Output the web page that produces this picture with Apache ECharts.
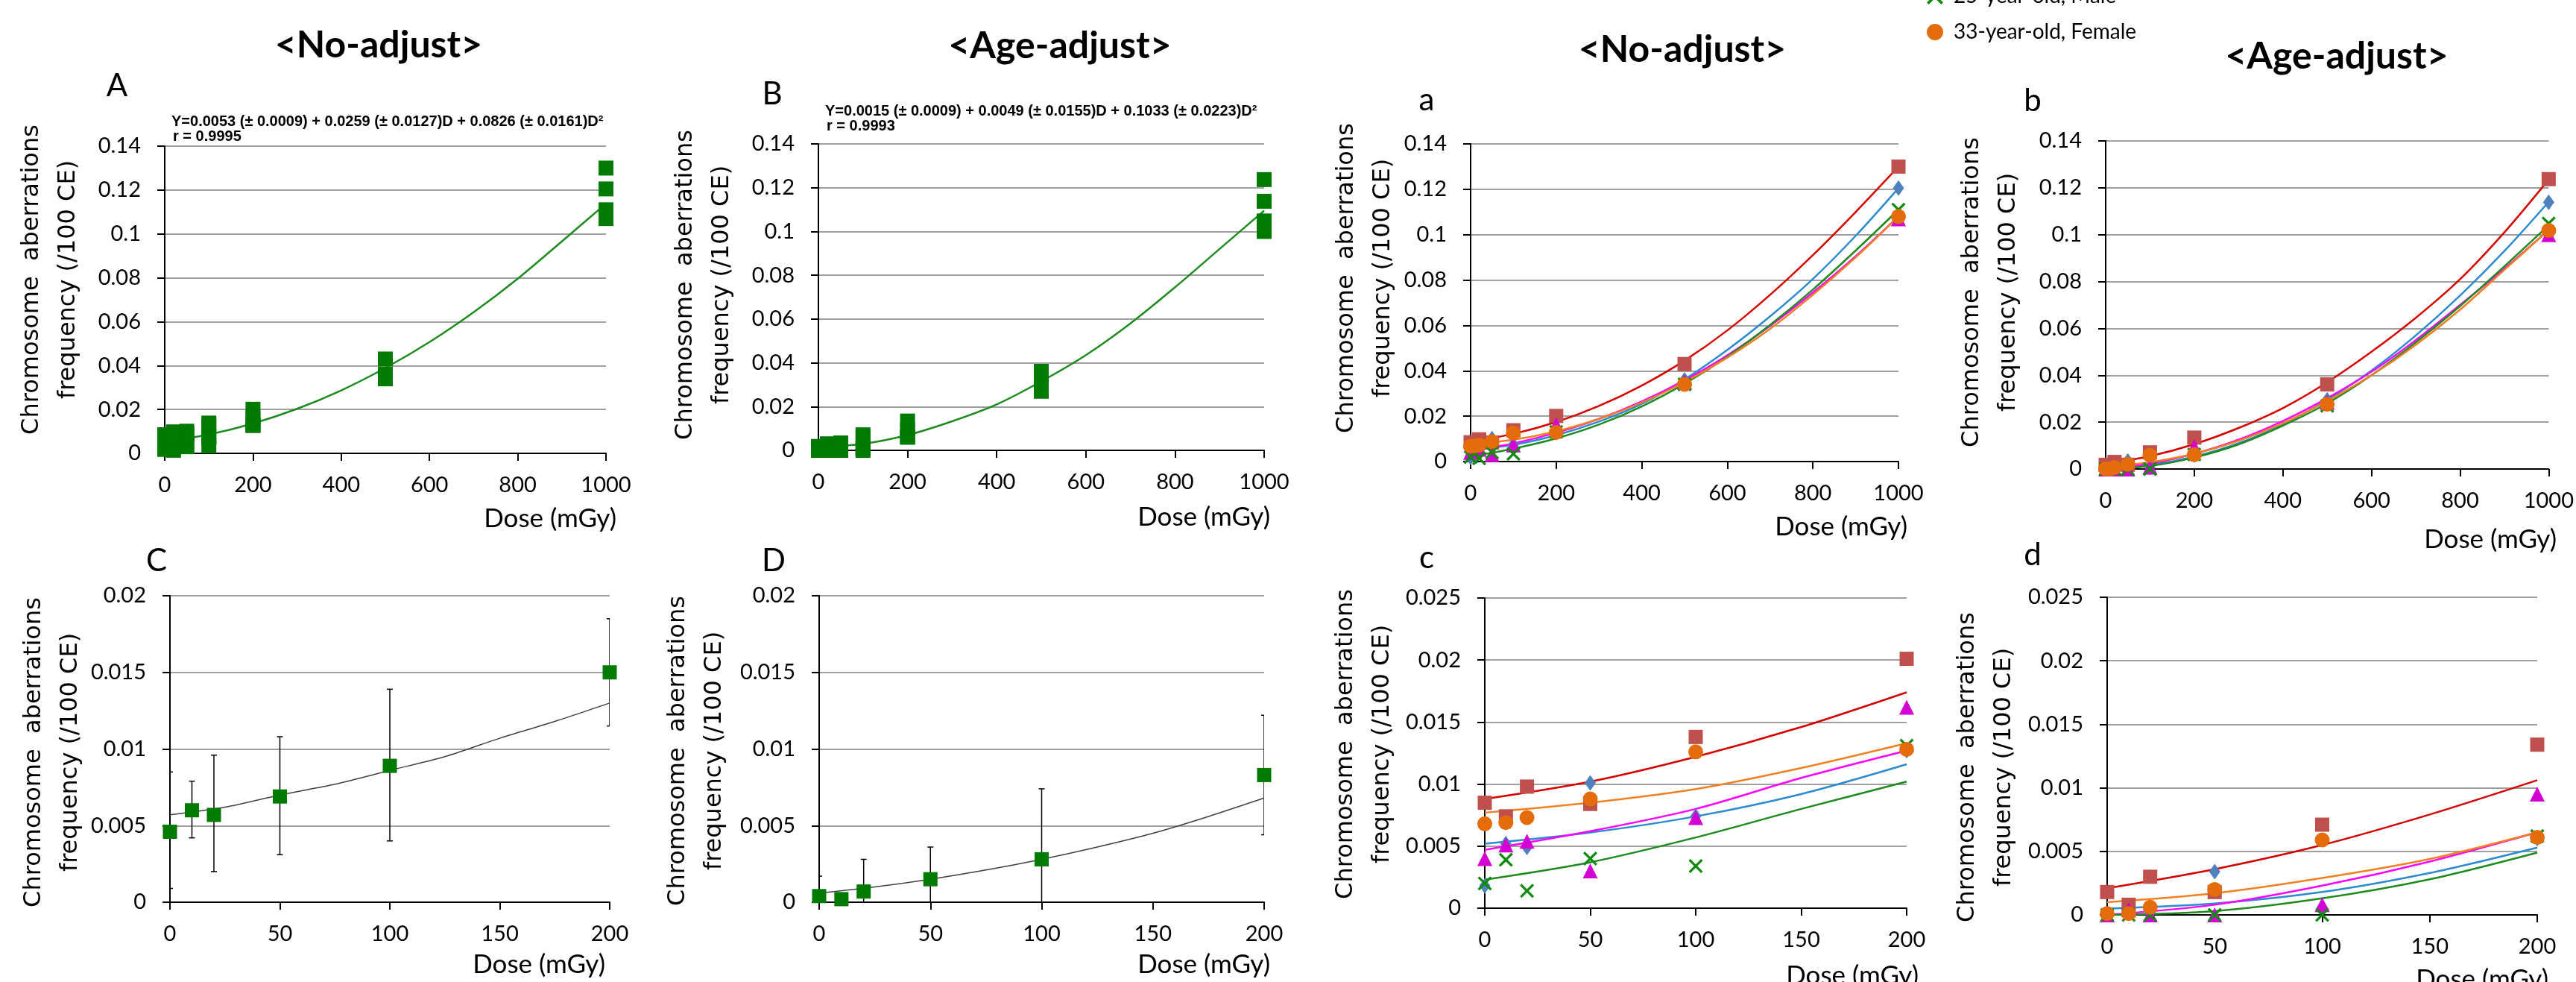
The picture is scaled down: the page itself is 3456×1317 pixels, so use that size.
<!DOCTYPE html>
<html>
<head>
<meta charset="utf-8">
<title>Chromosome aberrations vs dose</title>
<script src="https://cdn.jsdelivr.net/npm/echarts@6/dist/echarts.min.js"></script>
<style>
  html, body { margin: 0; padding: 0; background: #fff; }
  #chart { width: 3456px; height: 1317px; }
</style>
</head>
<body>
<div id="chart"></div>
<script>
// doses in mGy
const doses = [0, 10, 20, 50, 100, 200, 500, 1000];
const lowDoses = [0, 10, 20, 50, 100, 200];
const fitDoses = [0, 100, 200, 300, 400, 500, 600, 700, 800, 900, 1000];
const fitLowDoses = [0, 50, 100, 150, 200];
const meanFitDoses = [0, 25, 50, 75, 100, 125, 150, 175, 200];

// five donors (only the last two are named in the visible legend)
const donorNames = ['Donor 1', 'Donor 2', 'Donor 3', '25-year-old, Male', '33-year-old, Female'];

// No-adjust, per donor, at doses[]
const blueNo = [0.0018, 0.0052, 0.0049, 0.0101, 0.0074, 0.0127, 0.0360, 0.1205];
const redNo = [0.0085, 0.0074, 0.0098, 0.0084, 0.0138, 0.0201, 0.0430, 0.1300];
const magentaNo = [0.0040, 0.0051, 0.0054, 0.0030, 0.0073, 0.0162, 0.0350, 0.1070];
const greenNo = [0.0020, 0.0039, 0.0014, 0.0040, 0.0034, 0.0131, 0.0340, 0.1110];
const orangeNo = [0.0068, 0.0069, 0.0073, 0.0088, 0.0126, 0.0128, 0.0340, 0.1080];

// Age-adjust, per donor, at doses[]
const blueAge = [0.0000, 0.0004, 0.0002, 0.0034, 0.0006, 0.0060, 0.0295, 0.1138];
const redAge = [0.0018, 0.0008, 0.0030, 0.0018, 0.0071, 0.0134, 0.0361, 0.1237];
const magentaAge = [0.0000, 0.0004, 0.0000, 0.0000, 0.0008, 0.0095, 0.0285, 0.1000];
const greenAge = [0.0000, 0.0000, 0.0000, 0.0000, 0.0000, 0.0062, 0.0270, 0.1048];
const orangeAge = [0.0001, 0.0001, 0.0006, 0.0020, 0.0059, 0.0061, 0.0276, 0.1018];

// fitted curves per donor, read at fitDoses[]
const blueFitNo = [0.0052, 0.0074, 0.0116, 0.0176, 0.0254, 0.0362, 0.0492, 0.0640, 0.0805, 0.0995, 0.1205];
const redFitNo = [0.0088, 0.0122, 0.0174, 0.0245, 0.0335, 0.0445, 0.0578, 0.0735, 0.0910, 0.1100, 0.1300];
const magentaFitNo = [0.0047, 0.0080, 0.0127, 0.0188, 0.0265, 0.0358, 0.0468, 0.0598, 0.0745, 0.0905, 0.1080];
const greenFitNo = [0.0023, 0.0057, 0.0102, 0.0163, 0.0243, 0.0343, 0.0462, 0.0602, 0.0758, 0.0930, 0.1110];
const orangeFitNo = [0.0077, 0.0096, 0.0133, 0.0188, 0.0260, 0.0350, 0.0458, 0.0585, 0.0735, 0.0900, 0.1080];

const blueFitAge = [0.0005, 0.0018, 0.0053, 0.0110, 0.0190, 0.0295, 0.0420, 0.0570, 0.0740, 0.0930, 0.1140];
const redFitAge = [0.0021, 0.0055, 0.0106, 0.0175, 0.0260, 0.0370, 0.0500, 0.0645, 0.0810, 0.1010, 0.1235];
const magentaFitAge = [0.0000, 0.0023, 0.0065, 0.0125, 0.0205, 0.0302, 0.0415, 0.0550, 0.0700, 0.0855, 0.1020];
const greenFitAge = [0.0000, 0.0013, 0.0049, 0.0105, 0.0185, 0.0280, 0.0400, 0.0540, 0.0695, 0.0865, 0.1040];
const orangeFitAge = [0.0010, 0.0029, 0.0065, 0.0120, 0.0195, 0.0290, 0.0400, 0.0530, 0.0680, 0.0850, 0.1020];

// fitted curves per donor in the low-dose panels, at fitLowDoses[]
const blueFitNoLow = [0.0052, 0.0061, 0.0074, 0.0092, 0.0116];
const redFitNoLow = [0.0088, 0.0102, 0.0122, 0.0146, 0.0174];
const magentaFitNoLow = [0.0047, 0.0062, 0.0080, 0.0105, 0.0127];
const greenFitNoLow = [0.0023, 0.0037, 0.0057, 0.0080, 0.0102];
const orangeFitNoLow = [0.0077, 0.0085, 0.0096, 0.0113, 0.0133];

const blueFitAgeLow = [0.0005, 0.0009, 0.0018, 0.0033, 0.0053];
const redFitAgeLow = [0.0021, 0.0036, 0.0055, 0.0079, 0.0106];
const magentaFitAgeLow = [0.0000, 0.0008, 0.0023, 0.0042, 0.0065];
const greenFitAgeLow = [0.0000, 0.0003, 0.0013, 0.0028, 0.0049];
const orangeFitAgeLow = [0.0010, 0.0017, 0.0029, 0.0044, 0.0065];

// pooled fit curves (A, B), at fitDoses[]
const pooledFitNo = [0.0053, 0.0086, 0.0136, 0.0203, 0.0287, 0.0389, 0.0507, 0.0643, 0.0796, 0.0966, 0.1138];
const pooledFitAge = [0.0015, 0.0030, 0.0070, 0.0133, 0.0210, 0.0315, 0.0435, 0.0580, 0.0745, 0.0920, 0.1095];

// means with error bars (C, D), at lowDoses[]
const meanNo = [0.0046, 0.0060, 0.0057, 0.0069, 0.0089, 0.0150];
const errNoLow = [0.0009, 0.0042, 0.0020, 0.0031, 0.0040, 0.0115];
const errNoHigh = [0.0085, 0.0079, 0.0096, 0.0108, 0.0139, 0.0185];
const meanAge = [0.0004, 0.0002, 0.0007, 0.0015, 0.0028, 0.0083];
const errAgeLow = [0.0000, 0.0000, 0.0000, 0.0000, 0.0000, 0.0044];
const errAgeHigh = [0.0017, 0.0006, 0.0028, 0.0036, 0.0074, 0.0122];
// fit through the means, at meanFitDoses[]
const meanFitNo = [0.0057, 0.0062, 0.0070, 0.0077, 0.0086, 0.0095, 0.0107, 0.0118, 0.0130];
const meanFitAge = [0.0006, 0.0010, 0.0015, 0.0021, 0.0028, 0.0036, 0.0045, 0.0056, 0.0068];

const yTicks1000 = [0, 0.14, 0.02];
const yTicks200 = [0, 0.02, 0.005];
const yTicksDonor200 = [0, 0.025, 0.005];

const donorsNo = [blueNo, redNo, magentaNo, greenNo, orangeNo];
const donorsAge = [blueAge, redAge, magentaAge, greenAge, orangeAge];
const fitsNo = [blueFitNo, redFitNo, magentaFitNo, greenFitNo, orangeFitNo];
const fitsAge = [blueFitAge, redFitAge, magentaFitAge, greenFitAge, orangeFitAge];
const fitsNoLow = [blueFitNoLow, redFitNoLow, magentaFitNoLow, greenFitNoLow, orangeFitNoLow];
const fitsAgeLow = [blueFitAgeLow, redFitAgeLow, magentaFitAgeLow, greenFitAgeLow, orangeFitAgeLow];

const crossPath = 'path://M0,1.2 L1.2,0 L5,3.8 L8.8,0 L10,1.2 L6.2,5 L10,8.8 L8.8,10 L5,6.2 L1.2,10 L0,8.8 L3.8,5 Z';
const markerColors = ['#4F81BD', '#C0504D', '#D400D4', '#0E8A0E', '#E46C0A'];
const lineColors = ['#2B8AD0', '#D40000', '#FF00FF', '#1E8B1E', '#F28022'];
const symbols = ['diamond', 'rect', 'triangle', crossPath, 'circle'];
const symbolSizes = [[15, 21], 19, 20, 19, 20];

const FONT = 'Lato, "Open Sans", sans-serif';
const LABEL_FONT = '"DejaVu Sans", Verdana, sans-serif';

function pts(xs, ys) {
  return xs.map((x, i) => [x, ys[i]]);
}

// grids: 0 A, 1 B, 2 a, 3 b, 4 C, 5 D, 6 c, 7 d
const gridBoxes = [
  [221, 196, 592, 412],
  [1098, 193, 598, 411],
  [1973, 193, 574, 426],
  [2825, 189, 598, 440],
  [228, 799, 590, 411],
  [1099, 799, 597, 411],
  [1992, 802, 566, 416],
  [2827, 801, 577, 426]
];
const xRanges = [[1000, 200], [1000, 200], [1000, 200], [1000, 200], [200, 50], [200, 50], [200, 50], [200, 50]];
const yRanges = [yTicks1000, yTicks1000, yTicks1000, yTicks1000, yTicks200, yTicks200, yTicksDonor200, yTicksDonor200];

const grids = gridBoxes.map(b => ({left: b[0], top: b[1], width: b[2], height: b[3]}));

const xAxes = xRanges.map((r, i) => ({
  gridIndex: i, type: 'value', min: 0, max: r[0], interval: r[1],
  axisLine: {onZero: false, lineStyle: {color: '#000', width: 2}},
  axisTick: {show: true, length: 10, lineStyle: {color: '#000', width: 2}},
  axisLabel: {fontFamily: FONT, fontSize: 29, color: '#000', margin: 28, formatter: v => String(v)},
  splitLine: {show: false}
}));

const yAxes = yRanges.map((r, i) => ({
  gridIndex: i, type: 'value', min: r[0], max: r[1], interval: r[2],
  axisLine: {show: true, lineStyle: {color: '#000', width: 2}},
  axisTick: {show: true, length: 10, lineStyle: {color: '#000', width: 2}},
  axisLabel: {fontFamily: FONT, fontSize: 29, color: '#000', margin: 32},
  splitLine: {show: true, lineStyle: {color: '#A0A0A0', width: 2}}
}));

const series = [];

// A and B: pooled points with one fitted curve
function pooledPanel(idx, donors, fit) {
  const data = [];
  donors.forEach(d => doses.forEach((x, i) => data.push([x, d[i]])));
  series.push({
    type: 'line', name: 'pooled fit', xAxisIndex: idx, yAxisIndex: idx,
    data: pts(fitDoses, fit), smooth: 0.3, showSymbol: false,
    lineStyle: {color: '#1E8B1E', width: 2.5}, z: 2
  });
  series.push({
    type: 'scatter', name: 'pooled', xAxisIndex: idx, yAxisIndex: idx,
    data: data, symbol: 'rect', symbolSize: 20,
    itemStyle: {color: '#007A00', opacity: 1}, z: 3
  });
}
pooledPanel(0, donorsNo, pooledFitNo);
pooledPanel(1, donorsAge, pooledFitAge);

// a, b, c, d: five donors, each with own curve
function donorPanel(idx, donors, fits, fitX, nPts) {
  donors.forEach((d, k) => {
    series.push({
      type: 'line', name: donorNames[k] + ' fit', xAxisIndex: idx, yAxisIndex: idx,
      data: pts(fitX, fits[k]), smooth: 0.3, showSymbol: false,
      lineStyle: {color: lineColors[k], width: 2.5}, z: 2
    });
  });
  donors.forEach((d, k) => {
    series.push({
      type: 'scatter', name: donorNames[k], xAxisIndex: idx, yAxisIndex: idx,
      data: pts(doses.slice(0, nPts), d.slice(0, nPts)),
      symbol: symbols[k], symbolSize: symbolSizes[k],
      itemStyle: {color: markerColors[k], opacity: 1}, z: 3
    });
  });
}
donorPanel(2, donorsNo, fitsNo, fitDoses, 8);
donorPanel(3, donorsAge, fitsAge, fitDoses, 8);
donorPanel(6, donorsNo, fitsNoLow, fitLowDoses, 6);
donorPanel(7, donorsAge, fitsAgeLow, fitLowDoses, 6);

// C and D: means with error bars
function meanPanel(idx, mean, lo, hi, fit) {
  series.push({
    type: 'line', name: 'mean fit', xAxisIndex: idx, yAxisIndex: idx,
    data: pts(meanFitDoses, fit), smooth: 0.3, showSymbol: false,
    lineStyle: {color: '#404040', width: 1.5}, z: 2
  });
  series.push({
    type: 'custom', name: 'error', xAxisIndex: idx, yAxisIndex: idx,
    data: lowDoses.map((x, i) => [x, lo[i], hi[i]]),
    encode: {x: 0, y: [1, 2]},
    clip: true,
    renderItem: function (params, api) {
      const a = api.coord([api.value(0), api.value(1)]);
      const b = api.coord([api.value(0), api.value(2)]);
      const st = {stroke: '#000', lineWidth: 1.5};
      return {
        type: 'group',
        children: [
          {type: 'line', shape: {x1: a[0], y1: a[1], x2: b[0], y2: b[1]}, style: st},
          {type: 'line', shape: {x1: a[0] - 4, y1: a[1], x2: a[0] + 4, y2: a[1]}, style: st},
          {type: 'line', shape: {x1: b[0] - 4, y1: b[1], x2: b[0] + 4, y2: b[1]}, style: st}
        ]
      };
    },
    z: 2
  });
  series.push({
    type: 'scatter', name: 'mean', xAxisIndex: idx, yAxisIndex: idx,
    data: pts(lowDoses, mean), symbol: 'rect', symbolSize: 19,
    itemStyle: {color: '#007A00', opacity: 1}, z: 3
  });
}
meanPanel(4, meanNo, errNoLow, errNoHigh, meanFitNo);
meanPanel(5, meanAge, errAgeLow, errAgeHigh, meanFitAge);

// texts
const graphic = [];
function txt(x, y, text, size, opts) {
  graphic.push({
    type: 'text', x: x, y: y,
    style: Object.assign({
      text: text, fill: '#000', fontFamily: FONT, fontSize: size,
      align: 'center', verticalAlign: 'middle'
    }, opts || {})
  });
}
function txtRot(x, y, text) {
  graphic.push({
    type: 'text', x: x, y: y, rotation: Math.PI / 2,
    style: {
      text: text, fill: '#000', fontFamily: LABEL_FONT, fontSize: 32,
      align: 'center', verticalAlign: 'middle', lineHeight: 49
    }
  });
}

txt(508, 61, '<No-adjust>', 50, {fontWeight: 'bold'});
txt(1422, 62, '<Age-adjust>', 50, {fontWeight: 'bold'});
txt(2257, 67, '<No-adjust>', 50, {fontWeight: 'bold'});
txt(3135, 76, '<Age-adjust>', 50, {fontWeight: 'bold'});

const letters = [['A', 157, 115], ['B', 1036, 126], ['a', 1914, 134], ['b', 2727, 135],
                 ['C', 210, 752], ['D', 1038, 752], ['c', 1914, 748], ['d', 2727, 744]];
letters.forEach(l => txt(l[1], l[2], l[0], 42));

const eqFont = {fontFamily: '"Liberation Sans", Arial, sans-serif', fontWeight: 'bold', align: 'left'};
txt(230, 163, 'Y=0.0053 (\u00b1 0.0009) + 0.0259 (\u00b1 0.0127)D + 0.0826 (\u00b1 0.0161)D\u00b2', 20, eqFont);
txt(232, 183, 'r = 0.9995', 20, eqFont);
txt(1107, 149, 'Y=0.0015 (\u00b1 0.0009) + 0.0049 (\u00b1 0.0155)D + 0.1033 (\u00b1 0.0223)D\u00b2', 20, eqFont);
txt(1109, 169, 'r = 0.9993', 20, eqFont);

const yLabel = 'Chromosome  aberrations\nfrequency (/100 CE)';
[[67, 375], [944, 382], [1831, 373], [2670, 392], [70, 1009], [934, 1007], [1830, 998], [2664, 1029]]
  .forEach(p => txtRot(p[0], p[1], yLabel));

[[827, 696], [1704, 694], [2559, 707], [3430, 724], [812, 1294], [1704, 1294], [2574, 1309], [3419, 1314]]
  .forEach(p => txt(p[0], p[1], 'Dose (mGy)', 35, {align: 'right'}));

const chart = echarts.init(document.getElementById('chart'));
chart.setOption({
  animation: false,
  backgroundColor: '#fff',
  legend: {
    orient: 'vertical', left: 2580, top: -24,
    itemWidth: 24, itemHeight: 22, itemGap: 20,
    data: ['25-year-old, Male', '33-year-old, Female'],
    textStyle: {fontFamily: FONT, fontSize: 28, color: '#000', padding: [0, 0, 0, 8]}
  },
  grid: grids,
  xAxis: xAxes,
  yAxis: yAxes,
  series: series,
  graphic: graphic
});
</script>
</body>
</html>
